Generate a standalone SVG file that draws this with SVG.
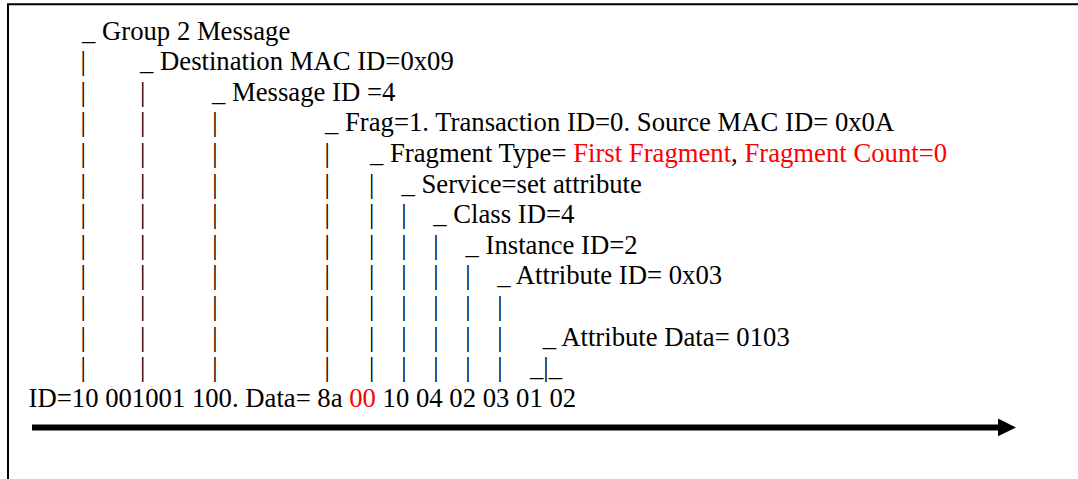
<svg xmlns="http://www.w3.org/2000/svg" width="1078" height="479" viewBox="0 0 1078 479">
<style>
text{font-family:"Liberation Serif","Times New Roman",serif;font-size:26.7px;fill:#000}
.r{fill:#ff0000}
</style>
<rect width="1078" height="479" fill="#fff"/>
<path d="M8,479 V4.2 H1078" fill="none" stroke="#000" stroke-width="2"/>
<g id="pipes">
<text x="80.6" y="70.1">|</text>
<text x="80.6" y="100.7">|</text><text x="140" y="100.7">|</text>
<text x="80.6" y="131.3">|</text><text x="140" y="131.3">|</text><text x="212.3" y="131.3">|</text>
<text x="80.6" y="161.9">|</text><text x="140" y="161.9">|</text><text x="212.3" y="161.9">|</text><text x="324.6" y="161.9">|</text>
<text x="80.6" y="192.5">|</text><text x="140" y="192.5">|</text><text x="212.3" y="192.5">|</text><text x="324.6" y="192.5">|</text><text x="369" y="192.5">|</text>
<text x="80.6" y="223.1">|</text><text x="140" y="223.1">|</text><text x="212.3" y="223.1">|</text><text x="324.6" y="223.1">|</text><text x="369" y="223.1">|</text><text x="401.3" y="223.1">|</text>
<text x="80.6" y="253.7">|</text><text x="140" y="253.7">|</text><text x="212.3" y="253.7">|</text><text x="324.6" y="253.7">|</text><text x="369" y="253.7">|</text><text x="401.3" y="253.7">|</text><text x="433.3" y="253.7">|</text>
<text x="80.6" y="284.3">|</text><text x="140" y="284.3">|</text><text x="212.3" y="284.3">|</text><text x="324.6" y="284.3">|</text><text x="369" y="284.3">|</text><text x="401.3" y="284.3">|</text><text x="433.3" y="284.3">|</text><text x="465.3" y="284.3">|</text>
<text x="80.6" y="314.9">|</text><text x="140" y="314.9">|</text><text x="212.3" y="314.9">|</text><text x="324.6" y="314.9">|</text><text x="369" y="314.9">|</text><text x="401.3" y="314.9">|</text><text x="433.3" y="314.9">|</text><text x="465.3" y="314.9">|</text><text x="497.3" y="314.9">|</text>
<text x="80.6" y="345.5">|</text><text x="140" y="345.5">|</text><text x="212.3" y="345.5">|</text><text x="324.6" y="345.5">|</text><text x="369" y="345.5">|</text><text x="401.3" y="345.5">|</text><text x="433.3" y="345.5">|</text><text x="465.3" y="345.5">|</text><text x="497.3" y="345.5">|</text>
<text x="80.6" y="376.1">|</text><text x="140" y="376.1">|</text><text x="212.3" y="376.1">|</text><text x="324.6" y="376.1">|</text><text x="369" y="376.1">|</text><text x="401.3" y="376.1">|</text><text x="433.3" y="376.1">|</text><text x="465.3" y="376.1">|</text><text x="497.3" y="376.1">|</text>
</g>
<g id="group2"><text x="82" y="39.5">_ Group 2 Message</text></g>
<g id="destmac"><text x="140" y="70.1">_ Destination MAC ID=0x09</text></g>
<g id="msgid"><text x="212" y="100.7">_ Message ID =4</text></g>
<g id="frag"><text x="325" y="131.3">_ Frag=1. Transaction ID=0. Source MAC ID= 0x0A</text></g>
<g id="fragtype"><text x="370" y="161.9">_ Fragment Type= <tspan class="r">First Fragment</tspan>, <tspan class="r">Fragment Count=0</tspan></text></g>
<g id="service"><text x="401.5" y="192.5">_ Service=set attribute</text></g>
<g id="classid"><text x="433.3" y="223.1">_ Class ID=4</text></g>
<g id="instance"><text x="465.5" y="253.7">_ Instance ID=2</text></g>
<g id="attrid"><text x="497.3" y="284.3">_ Attribute ID= 0x03</text></g>
<g id="attrdata"><text x="542.7" y="345.5">_ Attribute Data= 0103</text></g>
<g id="bracket"><text x="530" y="376.1">_|_</text></g>
<g id="data"><text x="28.6" y="406.9">ID=10 001001 100. Data= 8a <tspan class="r">00</tspan> 10 04 02 03 01 02</text></g>
<g id="connectors">
<line x1="32" y1="427.4" x2="1000" y2="427.4" stroke="#000" stroke-width="6"/>
<polygon points="998,418.5 1016,427.4 998,436.3" fill="#000"/>
</g>
</svg>
